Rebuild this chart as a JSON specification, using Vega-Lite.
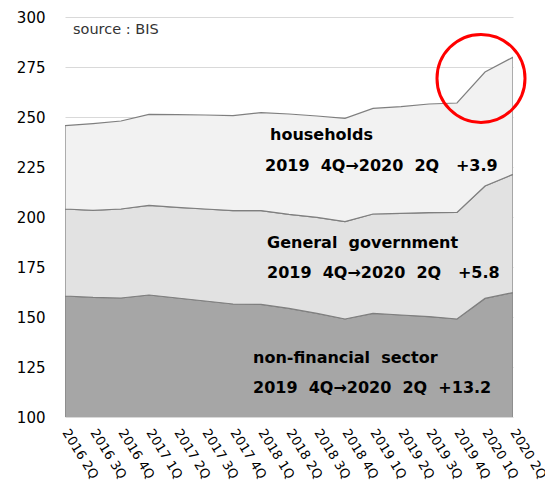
{
  "$schema": "https://vega.github.io/schema/vega-lite/v6.json",
  "width": 448,
  "height": 400,
  "autosize": "none",
  "padding": {"left": 65, "top": 17, "right": 32, "bottom": 72},
  "background": "white",
  "config": {
    "view": {"stroke": null},
    "font": "DejaVu Sans"
  },
  "datasets": {
    "debt": [
      {"q": "2016 2Q", "series": "non-financial sector", "v": 160.5},
      {"q": "2016 3Q", "series": "non-financial sector", "v": 159.8},
      {"q": "2016 4Q", "series": "non-financial sector", "v": 159.5},
      {"q": "2017 1Q", "series": "non-financial sector", "v": 161.0},
      {"q": "2017 2Q", "series": "non-financial sector", "v": 159.5},
      {"q": "2017 3Q", "series": "non-financial sector", "v": 158.0},
      {"q": "2017 4Q", "series": "non-financial sector", "v": 156.5},
      {"q": "2018 1Q", "series": "non-financial sector", "v": 156.3},
      {"q": "2018 2Q", "series": "non-financial sector", "v": 154.3},
      {"q": "2018 3Q", "series": "non-financial sector", "v": 151.8},
      {"q": "2018 4Q", "series": "non-financial sector", "v": 149.0},
      {"q": "2019 1Q", "series": "non-financial sector", "v": 151.8},
      {"q": "2019 2Q", "series": "non-financial sector", "v": 151.0},
      {"q": "2019 3Q", "series": "non-financial sector", "v": 150.2},
      {"q": "2019 4Q", "series": "non-financial sector", "v": 149.0},
      {"q": "2020 1Q", "series": "non-financial sector", "v": 159.3},
      {"q": "2020 2Q", "series": "non-financial sector", "v": 162.2},
      {"q": "2016 2Q", "series": "General government", "v": 43.5},
      {"q": "2016 3Q", "series": "General government", "v": 43.5},
      {"q": "2016 4Q", "series": "General government", "v": 44.5},
      {"q": "2017 1Q", "series": "General government", "v": 44.8},
      {"q": "2017 2Q", "series": "General government", "v": 45.3},
      {"q": "2017 3Q", "series": "General government", "v": 46.0},
      {"q": "2017 4Q", "series": "General government", "v": 46.7},
      {"q": "2018 1Q", "series": "General government", "v": 46.9},
      {"q": "2018 2Q", "series": "General government", "v": 47.0},
      {"q": "2018 3Q", "series": "General government", "v": 48.0},
      {"q": "2018 4Q", "series": "General government", "v": 48.7},
      {"q": "2019 1Q", "series": "General government", "v": 49.7},
      {"q": "2019 2Q", "series": "General government", "v": 50.8},
      {"q": "2019 3Q", "series": "General government", "v": 52.0},
      {"q": "2019 4Q", "series": "General government", "v": 53.3},
      {"q": "2020 1Q", "series": "General government", "v": 56.2},
      {"q": "2020 2Q", "series": "General government", "v": 59.1},
      {"q": "2016 2Q", "series": "households", "v": 41.7},
      {"q": "2016 3Q", "series": "households", "v": 43.4},
      {"q": "2016 4Q", "series": "households", "v": 44.0},
      {"q": "2017 1Q", "series": "households", "v": 45.5},
      {"q": "2017 2Q", "series": "households", "v": 46.4},
      {"q": "2017 3Q", "series": "households", "v": 47.0},
      {"q": "2017 4Q", "series": "households", "v": 47.5},
      {"q": "2018 1Q", "series": "households", "v": 49.0},
      {"q": "2018 2Q", "series": "households", "v": 50.2},
      {"q": "2018 3Q", "series": "households", "v": 50.7},
      {"q": "2018 4Q", "series": "households", "v": 51.6},
      {"q": "2019 1Q", "series": "households", "v": 52.8},
      {"q": "2019 2Q", "series": "households", "v": 53.4},
      {"q": "2019 3Q", "series": "households", "v": 54.3},
      {"q": "2019 4Q", "series": "households", "v": 54.7},
      {"q": "2020 1Q", "series": "households", "v": 57.0},
      {"q": "2020 2Q", "series": "households", "v": 58.6}
    ],
    "notes": [
      {"q": "2018 1Q", "y": 241, "t": "households", "dx": 9},
      {"q": "2018 1Q", "y": 225.5, "t": "2019\u00a0\u00a04Q→2020\u00a0\u00a02Q\u00a0\u00a0\u00a0+3.9", "dx": 4},
      {"q": "2018 1Q", "y": 187, "t": "General\u00a0\u00a0government", "dx": 6},
      {"q": "2018 1Q", "y": 172, "t": "2019\u00a0\u00a04Q→2020\u00a0\u00a02Q\u00a0\u00a0\u00a0+5.8", "dx": 6},
      {"q": "2018 1Q", "y": 129.5, "t": "non-financial\u00a0\u00a0sector", "dx": -8},
      {"q": "2018 1Q", "y": 114.5, "t": "2019\u00a0\u00a04Q→2020\u00a0\u00a02Q\u00a0\u00a0+13.2", "dx": -8}
    ]
  },
  "layer": [
    {
      "data": {"name": "debt"},
      "transform": [
        {"calculate": "indexof(['non-financial sector','General government','households'], datum.series)", "as": "stackOrder"}
      ],
      "mark": {"type": "area", "clip": true, "stroke": "#7f7f7f", "strokeWidth": 1.2, "line": false},
      "encoding": {
        "x": {
          "field": "q", "type": "ordinal", "sort": null,
          "scale": {"type": "point", "padding": 0},
          "axis": {
            "title": null, "grid": false, "domain": false, "ticks": false,
            "labelAngle": 58, "labelAlign": "left", "labelBaseline": "middle",
            "labelPadding": 13, "labelFontSize": 13, "labelColor": "#000",
            "labelFont": "DejaVu Sans"
          }
        },
        "y": {
          "field": "v", "type": "quantitative", "stack": "zero",
          "scale": {"domain": [100, 300], "zero": false, "nice": false},
          "axis": {
            "title": null, "values": [100, 125, 150, 175, 200, 225, 250, 275, 300],
            "domain": false, "ticks": false, "labelPadding": 20,
            "labelFontSize": 15, "labelColor": "#000",
            "gridColor": "#d9d9d9", "gridWidth": 1
          }
        },
        "color": {
          "field": "series", "type": "nominal", "legend": null,
          "scale": {
            "domain": ["non-financial sector", "General government", "households"],
            "range": ["#a6a6a6", "#e2e2e2", "#f2f2f2"]
          }
        },
        "order": {"field": "stackOrder", "type": "quantitative"}
      }
    },
    {
      "data": {"name": "notes"},
      "mark": {"type": "text", "align": "left", "baseline": "middle", "fontWeight": "bold", "fontSize": 16, "color": "#000", "font": "DejaVu Sans"},
      "encoding": {
        "x": {"field": "q", "type": "ordinal", "sort": null},
        "y": {"field": "y", "type": "quantitative"},
        "text": {"field": "t"},
        "xOffset": {"field": "dx", "type": "quantitative", "scale": null}
      }
    },
    {
      "data": {"values": [{"q": "2016 2Q", "y": 293.5, "t": "source : BIS"}]},
      "mark": {"type": "text", "align": "left", "baseline": "middle", "fontSize": 14.5, "color": "#333", "dx": 8},
      "encoding": {
        "x": {"field": "q", "type": "ordinal", "sort": null},
        "y": {"field": "y", "type": "quantitative"},
        "text": {"field": "t"}
      }
    },
    {
      "data": {"values": [{"q": "2020 1Q", "y": 269.3}]},
      "mark": {"type": "point", "shape": "circle", "filled": false, "stroke": "#ff0000", "strokeWidth": 3, "size": 7744, "xOffset": -4, "opacity": 1},
      "encoding": {
        "x": {"field": "q", "type": "ordinal", "sort": null},
        "y": {"field": "y", "type": "quantitative"}
      }
    }
  ]
}
